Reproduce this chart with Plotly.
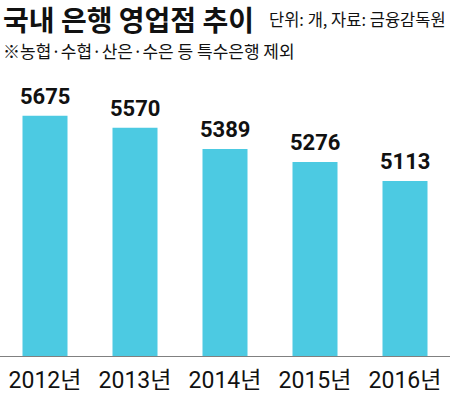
import plotly.graph_objects as go

years = ["2012년", "2013년", "2014년", "2015년", "2016년"]
branches = [5675, 5570, 5389, 5276, 5113]
title_text = "국내 은행 영업점 추이"
unit_text = "단위: 개, 자료: 금융감독원"
note_text = "※농협·수협·산은·수은 등 특수은행 제외"

W, H = 450, 394
top, bottom = 60, 38
plot_h = H - top - bottom

def py(p):
    return (H - bottom - p) / plot_h

fig = go.Figure(go.Bar(
    x=years, y=branches,
    marker=dict(color="#4ccae2", line=dict(width=0)),
    hoverinfo="skip",
))

num_font = dict(family="Roboto, sans-serif", size=22, color="#111111", weight="bold")
annotations = [
    dict(x=yr, y=v, xref="x", yref="y", text=str(v), showarrow=False,
         yanchor="bottom", xanchor="center", yshift=5, font=num_font)
    for yr, v in zip(years, branches)
]
annotations += [
    dict(text=title_text, xref="paper", yref="paper", x=1 / W, y=py(19),
         xanchor="left", yanchor="middle", showarrow=False,
         font=dict(family="Noto Sans CJK KR", size=28, color="#111111", weight="bold")),
    dict(text=unit_text, xref="paper", yref="paper", x=448 / W, y=py(19),
         xanchor="right", yanchor="middle", showarrow=False,
         font=dict(family="Noto Sans CJK KR", size=16.5, color="#111111")),
    dict(text=note_text, xref="paper", yref="paper", x=1 / W, y=py(51),
         xanchor="left", yanchor="middle", showarrow=False,
         font=dict(family="Noto Sans CJK KR", size=17, color="#111111")),
]

fig.update_layout(
    width=W, height=H,
    margin=dict(l=0, r=0, t=top, b=bottom),
    paper_bgcolor="white", plot_bgcolor="white",
    bargap=0.5,
    showlegend=False,
    xaxis=dict(
        range=[-0.5, 4.5], showgrid=False, zeroline=False,
        showline=True, linecolor="#808080", linewidth=1,
        ticks="", ticklabelstandoff=3,
        tickfont=dict(family="Roboto, Noto Sans CJK KR, sans-serif", size=23, color="#111111"),
        automargin=False,
    ),
    yaxis=dict(range=[3607, 6154], visible=False, automargin=False),
    annotations=annotations,
)

fig.write_html("out.html", config={"displayModeBar": False, "staticPlot": True},
               post_script="document.body.style.margin='0';document.body.style.overflow='hidden';")
